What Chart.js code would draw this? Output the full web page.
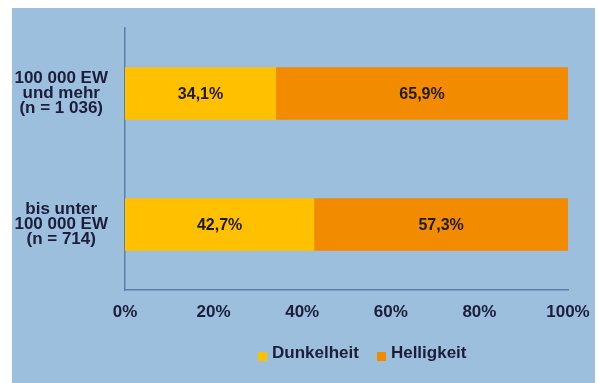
<!DOCTYPE html>
<html lang="de">
<head>
<meta charset="utf-8">
<script src="https://cdn.jsdelivr.net/npm/chart.js@4.4.1/dist/chart.umd.min.js"></script>
<style>
  body { margin: 0; width: 599px; height: 383px; overflow: hidden; position: relative; background: #fff;
         font-family: "Liberation Sans", Arial, sans-serif; }
  #panel { position: absolute; left: 12px; top: 8px; width: 583px; height: 375px; background: #9bbfdd; }
  #panel canvas { position: absolute; left: 0; top: 0; }
  #legend { position: absolute; left: 246px; top: 335px; display: flex; align-items: center;
            font-weight: bold; font-size: 17px; color: #1c1d3a; }
  #legend .item { display: flex; align-items: center; margin-right: 18px; }
  #legend .box { width: 9px; height: 9px; margin-right: 5px; margin-top: 6px; }
</style>
</head>
<body>
<div id="panel">
  <canvas id="anteilChart" width="583" height="375"></canvas>
  <div id="legend"></div>
</div>
<script>
const categories = [
  ['100 000 EW', 'und mehr', '(n = 1 036)'],
  ['bis unter', '100 000 EW', '(n = 714)']
];
const seriesNames = ['Dunkelheit', 'Helligkeit'];
const dunkelheit = [34.1, 42.7];
const helligkeit = [65.9, 57.3];
const seriesColors = ['#ffc000', '#f28b00'];

const textColor = '#1c1d3a';
const axisColor = '#5c7fa8';
const tickFont = { family: '"Liberation Sans", Arial, sans-serif', size: 17, weight: 'bold', lineHeight: 0.9 };

// 34,1% statt 34.1%
const fmt = v => v.toFixed(1).replace('.', ',') + '%';

// Prozentwerte mittig in die Balken schreiben
const valueLabels = {
  id: 'valueLabels',
  afterDatasetsDraw(chart) {
    const ctx = chart.ctx;
    ctx.save();
    ctx.font = 'bold 16px "Liberation Sans", Arial, sans-serif';
    ctx.fillStyle = '#1f1a14';
    ctx.textAlign = 'center';
    ctx.textBaseline = 'middle';
    chart.data.datasets.forEach((ds, i) => {
      chart.getDatasetMeta(i).data.forEach((bar, j) => {
        const { x, y, base } = bar.getProps(['x', 'y', 'base'], true);
        ctx.fillText(fmt(ds.data[j]), (x + base) / 2, y + 1);
      });
    });
    ctx.restore();
  }
};

const canvas = document.getElementById('anteilChart');
const chart = new Chart(canvas, {
  type: 'bar',
  data: {
    labels: categories,
    datasets: [
      { label: seriesNames[0], data: dunkelheit, backgroundColor: seriesColors[0] },
      { label: seriesNames[1], data: helligkeit, backgroundColor: seriesColors[1] }
    ]
  },
  options: {
    indexAxis: 'y',
    responsive: false,
    animation: false,
    barPercentage: 0.4,
    categoryPercentage: 1,
    layout: { padding: { top: 20, right: 27, bottom: 61, left: 0 } },
    plugins: {
      legend: { display: false },
      tooltip: { enabled: false }
    },
    scales: {
      x: {
        stacked: true,
        min: 0,
        max: 100,
        ticks: { stepSize: 20, callback: v => v + '%', font: tickFont, color: textColor, padding: 15 },
        grid: { display: false, drawTicks: false },
        border: { display: true, color: axisColor, width: 1.5 },
        // Rand nur über layout.padding steuern
        afterFit: s => { s.height = 32; s.paddingLeft = 0; s.paddingRight = 0; }
      },
      y: {
        stacked: true,
        ticks: { font: tickFont, color: textColor, crossAlign: 'center', padding: 17 },
        grid: { display: false, drawTicks: false },
        border: { display: true, color: axisColor, width: 1.5 },
        afterFit: s => { s.width = 113; s.paddingTop = 0; s.paddingBottom = 0; }
      }
    }
  },
  plugins: [valueLabels]
});

// Legende als HTML unter dem Diagramm
const legendEl = document.getElementById('legend');
chart.data.datasets.forEach(ds => {
  const item = document.createElement('span');
  item.className = 'item';
  const box = document.createElement('span');
  box.className = 'box';
  box.style.background = ds.backgroundColor;
  item.appendChild(box);
  item.appendChild(document.createTextNode(ds.label));
  legendEl.appendChild(item);
});
</script>
</body>
</html>
